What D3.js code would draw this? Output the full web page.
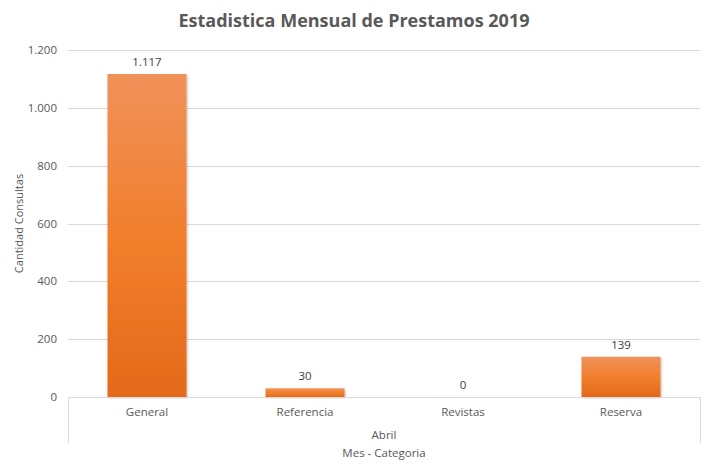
<!DOCTYPE html>
<html><head><meta charset="utf-8">
<script src="https://cdn.jsdelivr.net/npm/d3@7"></script>
<style>body{margin:0;background:#fff}svg{display:block}text{font-family:"Open Sans",Calibri,sans-serif}</style>
</head><body><svg id="c" width="711" height="472"></svg>
<script>
const categories = ["General","Referencia","Revistas","Reserva"];
const values = [1117,30,0,139];
const yTicks = [0,200,400,600,800,1000,1200];
const groupLabel = "Abril";
const title = "Estadistica Mensual de Prestamos 2019";
const yTitle = "Cantidad Consultas";
const xTitle = "Mes - Categoria";

const svg = d3.select("#c");
const W=711,H=472, L=68, R=700, T=50, B=397;
const fmt = v => d3.format(",")(v).replace(/,/g,".");
const x = d3.scaleBand().domain(categories).range([L,R]).paddingInner(0.5).paddingOuter(0.25);
const y = d3.scaleLinear().domain([0,1200]).range([B,T]);

const defs = svg.append("defs");
const g = defs.append("linearGradient").attr("id","bg").attr("x1",0).attr("y1",0).attr("x2",0).attr("y2",1);
g.append("stop").attr("offset","0%").attr("stop-color","#F0915A");
g.append("stop").attr("offset","50%").attr("stop-color","#F17F2D");
g.append("stop").attr("offset","100%").attr("stop-color","#E4691B");
const f = defs.append("filter").attr("id","sh").attr("x","-10%").attr("y","-10%").attr("width","130%").attr("height","130%");
f.append("feDropShadow").attr("dx",1).attr("dy",1).attr("stdDeviation",1.2).attr("flood-color","#000").attr("flood-opacity",0.25);

svg.append("text").attr("x",354).attr("y",27).attr("text-anchor","middle")
  .attr("font-size",18).attr("font-weight","bold").attr("fill","#595959").text(title);

// grid
svg.append("g").selectAll("line").data(yTicks.filter(d=>d>0)).join("line")
  .attr("x1",L).attr("x2",R).attr("y1",d=>Math.round(y(d))+0.5).attr("y2",d=>Math.round(y(d))+0.5)
  .attr("stroke","#D9D9D9").attr("stroke-width",1);

// y tick labels
svg.append("g").selectAll("text").data(yTicks).join("text")
  .attr("x",57).attr("y",d=>y(d)).attr("dy","0.35em").attr("text-anchor","end")
  .attr("font-size",11.5).attr("fill","#595959").text(fmt);

svg.append("text").attr("transform",`translate(23,${(T+B)/2}) rotate(-90)`).attr("text-anchor","middle")
  .attr("font-size",11).attr("fill","#595959").text(yTitle);

// bars
svg.append("g").selectAll("rect").data(categories).join("rect")
  .attr("x",d=>x(d)).attr("width",x.bandwidth())
  .attr("y",(d,i)=>y(values[i])).attr("height",(d,i)=>Math.max(B-y(values[i]),0.8))
  .attr("fill",(d,i)=>values[i]>0?"url(#bg)":"#F3E3D8").attr("filter",(d,i)=>values[i]>0?"url(#sh)":null);

// data labels
svg.append("g").selectAll("text").data(categories).join("text")
  .attr("x",d=>x(d)+x.bandwidth()/2).attr("y",(d,i)=>y(values[i])-8)
  .attr("text-anchor","middle").attr("font-size",11.5).attr("fill","#404040").text((d,i)=>fmt(values[i]));

// axis box
const ax = svg.append("g").attr("stroke","#D9D9D9").attr("fill","none");
ax.append("line").attr("x1",L).attr("x2",R).attr("y1",B+0.5).attr("y2",B+0.5);
ax.append("line").attr("x1",L+0.5).attr("x2",L+0.5).attr("y1",B).attr("y2",443);
ax.append("line").attr("x1",R+0.5).attr("x2",R+0.5).attr("y1",B).attr("y2",443);

svg.append("g").selectAll("text").data(categories).join("text")
  .attr("x",d=>x(d)+x.bandwidth()/2).attr("y",412).attr("dy","0.35em").attr("text-anchor","middle")
  .attr("font-size",11.5).attr("fill","#595959").text(d=>d);
svg.append("text").attr("x",(L+R)/2).attr("y",435).attr("dy","0.35em").attr("text-anchor","middle")
  .attr("font-size",11.5).attr("fill","#595959").text(groupLabel);
svg.append("text").attr("x",(L+R)/2).attr("y",453).attr("dy","0.35em").attr("text-anchor","middle")
  .attr("font-size",11.5).attr("fill","#595959").text(xTitle);
</script></body></html>
